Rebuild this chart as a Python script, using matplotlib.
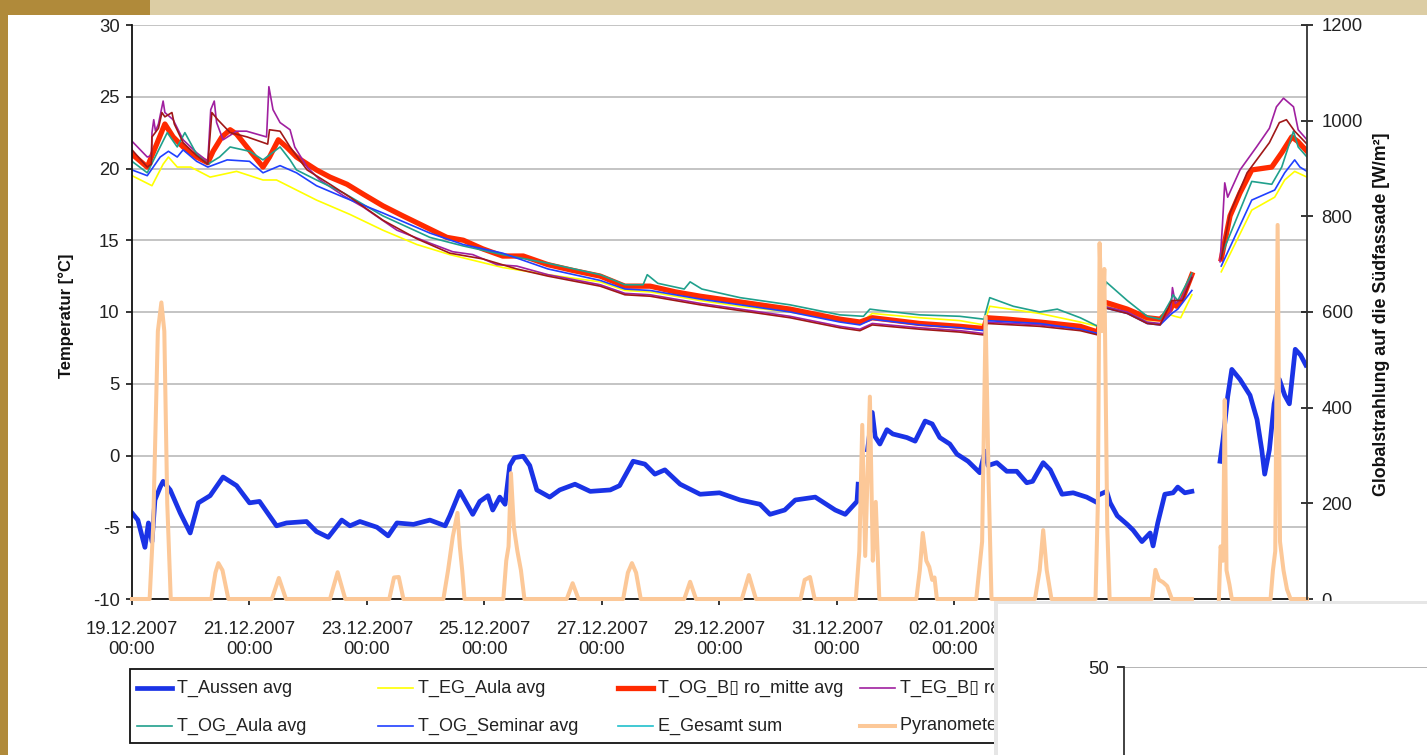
import numpy as np
import matplotlib
matplotlib.use("Agg")
import matplotlib.pyplot as plt
import matplotlib.dates as mdates
from matplotlib.patches import Rectangle
from matplotlib.lines import Line2D

plt.rcParams['font.family'] = ['Liberation Sans', 'DejaVu Sans']
plt.rcParams['axes.unicode_minus'] = False

W, H = 1427, 755
START = np.datetime64('2007-12-19T00:00')
nan = np.nan

# ---------------- data (days since 19.12.2007 00:00, values) ----------------
aussen_d = [0.00, 0.10, 0.22, 0.28, 0.34, 0.39, 0.48, 0.53, 0.65, 0.82, 0.99, 1.13, 1.33, 1.55, 1.78,
            2.00, 2.17, 2.46, 2.63, 2.97, 3.14, 3.34, 3.57, 3.71, 3.88, 4.17, 4.36, 4.51, 4.79, 5.07,
            5.33, 5.41, 5.58, 5.80, 5.92, 6.06, 6.14, 6.26, 6.35, 6.43, 6.51, 6.66, 6.77, 6.89, 7.11,
            7.28, 7.54, 7.80, 8.14, 8.30, 8.53, 8.73, 8.90, 9.07, 9.33, 9.67, 10.00, 10.35, 10.69, 10.86,
            11.11, 11.29, 11.63, 11.97, 12.14, 12.34, 12.36, 12.45, 12.52, 12.60, 12.65, 12.73, 12.85,
            12.95, 13.19, 13.33, 13.50, 13.62, 13.75, 13.92, 14.04, 14.23, 14.43, 14.52, 14.57, 14.72,
            14.89, 15.06, 15.23, 15.33, 15.51, 15.63, 15.83, 16.02, 16.25, 16.39, 16.44, 16.48, 16.59,
            16.65, 16.77, 16.94, 17.04, 17.19, 17.33, 17.38, 17.46, 17.58, 17.72, 17.80, 17.92, 18.04,
            18.30, 18.52, 18.57, 18.65, 18.72, 18.86, 19.03, 19.15, 19.23, 19.28, 19.36, 19.44, 19.53,
            19.62, 19.70, 19.80, 19.89, 19.98]
aussen_v = [-4.0, -4.5, -6.4, -4.7, -6.0, -3.1, -2.2, -1.8, -2.4, -4.0, -5.4, -3.3, -2.8, -1.5, -2.1,
            -3.3, -3.2, -4.9, -4.7, -4.6, -5.3, -5.7, -4.5, -4.9, -4.6, -5.0, -5.6, -4.7, -4.8, -4.5,
            -4.9, -4.2, -2.5, -4.1, -3.2, -2.8, -3.8, -2.9, -3.4, -0.7, -0.15, -0.05, -0.7, -2.4, -2.9,
            -2.4, -2.0, -2.5, -2.4, -2.1, -0.4, -0.6, -1.3, -1.0, -2.0, -2.7, -2.6, -3.1, -3.4, -4.1,
            -3.8, -3.1, -2.9, -3.8, -4.1, -3.2, -2.0, nan, 0.4, 3.0, 1.3, 0.8, 1.8,
            1.5, 1.25, 1.0, 2.4, 2.2, 1.25, 0.8, 0.1, -0.4, -1.2, 0.3, -0.7, -0.5,
            -1.1, -1.1, -1.9, -1.8, -0.5, -1.0, -2.7, -2.6, -2.9, -3.2, nan, -2.7, -2.5,
            -3.3, -4.2, -4.8, -5.2, -6.0, -5.4, -6.3, -4.7, -2.7, -2.6, -2.2, -2.6, -2.5,
            nan, -0.4, 1.1, 4.1, 6.0, 5.3, 4.2, 2.5, 0.4, -1.3, 0.4, 3.6, 5.3,
            4.2, 3.6, 7.4, 7.0, 6.3]

eg_aula_d = [0.00, 0.34, 0.53, 0.62, 0.77, 1.00, 1.33, 1.78, 2.23, 2.46, 2.80, 3.14, 3.71, 4.27, 4.85,
             5.41, 6.31, 7.08, 7.97, 8.39, 8.82, 9.67, 10.35, 11.20, 12.05, 12.39, 12.60, 13.41, 14.09,
             14.50, 14.60, 15.45, 16.14, 16.44, 16.55, 16.94, 17.28, 17.50, 17.68, 17.75, 17.85, 18.04,
             18.30, 18.54, 19.06, 19.45, 19.62, 19.79, 20.00]
eg_aula_v = [19.5, 18.8, 20.3, 20.8, 20.1, 20.1, 19.4, 19.8, 19.2, 19.2, 18.5, 17.8, 16.8, 15.7, 14.7,
             14.0, 13.1, 12.6, 12.1, 11.5, 11.4, 10.8, 10.4, 10.0, 9.4, 9.2, 9.9, 9.6, 9.4,
             9.1, 10.4, 9.9, 9.3, 9.0, 10.5, 10.0, 9.4, 9.4, 9.8, 9.7, 9.6, 11.2,
             nan, 12.8, 17.1, 18.0, 19.2, 19.8, 19.4]

og_buero_d = [0.00, 0.26, 0.43, 0.56, 0.70, 0.87, 1.10, 1.29, 1.38, 1.53, 1.67, 1.78, 2.23, 2.34, 2.49,
              2.63, 2.80, 3.14, 3.37, 3.66, 3.94, 4.27, 4.61, 4.96, 5.36, 5.64, 5.97, 6.31, 6.66, 7.08,
              7.50, 7.97, 8.39, 8.82, 9.25, 9.67, 10.35, 11.20, 12.05, 12.39, 12.60, 13.41, 14.09, 14.50,
              14.55, 14.90, 15.45, 16.14, 16.44, 16.55, 16.94, 17.28, 17.50, 17.68, 17.72, 17.78, 17.88,
              18.04, 18.30, 18.54, 18.69, 18.86, 19.06, 19.40, 19.57, 19.74, 19.84, 20.00]
og_buero_v = [21.0, 20.1, 21.8, 23.1, 22.2, 21.5, 20.8, 20.4, 21.2, 22.2, 22.7, 22.4, 20.1, 20.8, 22.0,
              21.5, 20.8, 19.9, 19.4, 18.9, 18.2, 17.4, 16.7, 16.0, 15.2, 15.0, 14.4, 13.9, 13.9, 13.3,
              12.9, 12.5, 11.8, 11.8, 11.4, 11.1, 10.7, 10.2, 9.5, 9.3, 9.6, 9.2, 9.0, 8.85,
              9.6, 9.5, 9.3, 9.0, 8.6, 10.7, 10.2, 9.6, 9.5, 10.2, 10.6, 10.4, 10.9,
              12.6, nan, 13.7, 16.7, 18.3, 19.9, 20.1, 21.1, 22.2, 21.9, 21.2]

eg_buero_d = [0.00, 0.26, 0.33, 0.34, 0.37, 0.40, 0.45, 0.53, 0.56, 0.70, 0.87, 1.10, 1.29, 1.34, 1.40,
              1.44, 1.55, 1.78, 1.95, 2.29, 2.33, 2.40, 2.52, 2.69, 2.77, 2.98, 3.20, 3.60, 3.94, 4.51,
              5.07, 5.46, 5.80, 6.21, 6.55, 7.08, 7.97, 8.39, 8.82, 9.67, 10.35, 11.20, 12.05, 12.39,
              12.60, 13.41, 14.09, 14.50, 14.55, 15.45, 16.14, 16.44, 16.55, 16.94, 17.28, 17.50, 17.68,
              17.71, 17.76, 17.88, 18.04, 18.30, 18.52, 18.56, 18.60, 18.65, 18.86, 19.14, 19.36, 19.48,
              19.60, 19.77, 19.85, 20.00]
eg_buero_v = [21.9, 20.8, 20.9, 22.5, 23.4, 22.6, 23.1, 24.7, 23.9, 23.4, 22.0, 21.1, 20.5, 24.1, 24.7,
              23.2, 22.0, 22.6, 22.6, 22.2, 25.7, 24.1, 23.2, 22.7, 21.5, 20.1, 19.2, 18.1, 17.3, 15.7,
              14.8, 14.2, 14.0, 13.3, 13.2, 12.6, 11.9, 11.3, 11.2, 10.6, 10.2, 9.7, 9.0, 8.8,
              9.2, 8.9, 8.7, 8.5, 9.3, 9.1, 8.8, 8.5, 10.4, 10.0, 9.3, 9.2, 10.0,
              11.7, 10.6, 11.0, 12.5, nan, 13.5, 16.0, 19.0, 18.0, 19.9, 21.5, 22.8, 24.3,
              24.9, 24.3, 22.7, 22.0]

og_aula_d = [0.00, 0.26, 0.43, 0.60, 0.77, 0.90, 1.10, 1.29, 1.49, 1.67, 2.00, 2.23, 2.52, 2.69, 2.80,
             3.14, 3.60, 4.27, 5.07, 5.64, 6.31, 7.08, 7.97, 8.39, 8.70, 8.77, 8.95, 9.40, 9.50, 9.70,
             10.35, 11.20, 12.05, 12.45, 12.56, 12.75, 13.41, 14.09, 14.50, 14.60, 15.00, 15.45, 15.75,
             16.14, 16.44, 16.58, 16.94, 17.28, 17.50, 17.68, 17.72, 17.80, 18.04, 18.30, 18.54, 19.06,
             19.40, 19.57, 19.77, 19.85, 20.00]
og_aula_v = [20.5, 19.7, 21.1, 22.5, 21.5, 22.5, 21.0, 20.3, 20.8, 21.5, 21.2, 20.6, 21.5, 20.6, 19.9,
             19.2, 18.3, 16.7, 15.2, 14.6, 14.0, 13.4, 12.6, 11.9, 11.9, 12.6, 12.0, 11.6, 12.1, 11.6,
             11.0, 10.5, 9.8, 9.7, 10.2, 10.1, 9.8, 9.7, 9.5, 11.0, 10.4, 10.0, 10.2,
             9.6, 9.0, 12.1, 10.8, 9.7, 9.5, 10.8, 11.2, 10.8, 12.7, nan, 13.9, 19.1,
             18.9, 20.1, 22.6, 21.5, 20.8]

og_seminar_d = [0.00, 0.26, 0.48, 0.62, 0.77, 0.87, 1.10, 1.29, 1.62, 2.00, 2.23, 2.52, 2.80, 3.14, 3.60,
                4.27, 5.07, 5.64, 6.31, 7.08, 7.97, 8.39, 8.82, 9.67, 10.35, 11.20, 12.05, 12.39, 12.60,
                13.41, 14.09, 14.50, 14.55, 15.45, 16.14, 16.44, 16.55, 16.94, 17.28, 17.50, 17.70, 17.80,
                18.04, 18.30, 18.54, 19.06, 19.45, 19.62, 19.79, 19.88, 20.00]
og_seminar_v = [19.9, 19.5, 20.8, 21.2, 20.8, 21.3, 20.5, 20.1, 20.6, 20.5, 19.7, 20.2, 19.7, 18.8, 18.0,
                16.9, 15.5, 14.7, 14.1, 13.0, 12.2, 11.6, 11.5, 10.9, 10.5, 10.0, 9.3, 9.1, 9.5,
                9.1, 8.9, 8.7, 9.4, 9.2, 8.8, 8.5, 10.3, 9.9, 9.2, 9.1, 9.9, 10.2,
                11.5, nan, 13.2, 17.8, 18.5, 19.7, 20.6, 20.1, 19.8]

og_buero2_d = [0.00, 0.26, 0.33, 0.34, 0.45, 0.51, 0.56, 0.68, 0.72, 0.87, 1.10, 1.29, 1.36, 1.46, 1.67,
               1.96, 2.31, 2.34, 2.52, 2.69, 2.98, 3.37, 3.71, 4.27, 4.85, 5.41, 5.97, 6.55, 7.08, 7.97,
               8.39, 8.82, 9.67, 10.35, 11.20, 12.05, 12.39, 12.60, 13.41, 14.09, 14.50, 14.55, 15.45,
               16.14, 16.44, 16.55, 16.94, 17.28, 17.50, 17.70, 17.88, 18.04, 18.30, 18.54, 18.69, 18.98,
               19.36, 19.53, 19.65, 19.79, 20.00]
og_buero2_v = [21.3, 20.1, 20.3, 22.2, 22.8, 23.9, 23.6, 23.9, 23.1, 21.8, 20.9, 20.3, 23.9, 23.4, 22.5,
               22.2, 21.7, 22.7, 22.6, 21.5, 19.9, 18.9, 18.0, 16.4, 15.1, 14.1, 13.7, 13.0, 12.5, 11.8,
               11.2, 11.1, 10.5, 10.1, 9.6, 8.9, 8.7, 9.1, 8.8, 8.6, 8.4, 9.2, 9.0,
               8.7, 8.4, 10.3, 9.9, 9.2, 9.1, 10.8, 10.8, 12.4, nan, 13.7, 16.9, 19.7,
               21.8, 23.2, 23.4, 22.6, 21.7]

pyr_d = [0.00, 0.30, 0.36, 0.44, 0.50, 0.55, 0.60, 0.66,
         1.35, 1.42, 1.47, 1.54, 1.64,
         2.38, 2.50, 2.62,
         3.37, 3.50, 3.63,
         4.38, 4.46, 4.54, 4.62,
         5.30, 5.38, 5.46, 5.54, 5.58, 5.62, 5.66,
         6.32, 6.37, 6.41, 6.45, 6.50, 6.56, 6.62, 6.68,
         7.40, 7.50, 7.60,
         8.36, 8.44, 8.51, 8.58, 8.66,
         9.40, 9.50, 9.60,
         10.38, 10.50, 10.62,
         11.38, 11.45, 11.54, 11.62,
         12.32, 12.38, 12.43, 12.48, 12.56, 12.61, 12.66, 12.72,
         13.35, 13.41, 13.46, 13.52, 13.57, 13.62, 13.66, 13.70,
         14.37, 14.42, 14.47, 14.53, 14.58, 14.63,
         15.37, 15.45, 15.51, 15.57, 15.65,
         16.40, 16.44, 16.47, 16.51, 16.55, 16.60, 16.64,
         17.36, 17.42, 17.48, 17.55, 17.62, 17.70, 18.04,
         18.30,
         18.50, 18.53, 18.57, 18.60, 18.63, 18.68, 18.72,
         19.38, 19.42, 19.46, 19.50, 19.54, 19.60, 19.66, 19.72, 20.00]
pyr_v = [0, 0, 150, 560, 620, 560, 200, 0,
         0, 55, 75, 60, 0,
         0, 44, 0,
         0, 56, 0,
         0, 45, 46, 0,
         0, 60, 130, 180, 110, 60, 0,
         0, 80, 110, 263, 150, 100, 60, 0,
         0, 33, 0,
         0, 55, 75, 55, 0,
         0, 36, 0,
         0, 50, 0,
         0, 40, 46, 0,
         0, 100, 364, 90, 423, 80, 203, 0,
         0, 60, 138, 80, 67, 40, 45, 0,
         0, 60, 120, 590, 250, 0,
         0, 60, 144, 60, 0,
         0, 200, 744, 560, 690, 150, 0,
         0, 61, 40, 35, 27, 0, 0,
         nan,
         0, 110, 80, 416, 60, 30, 0,
         0, 60, 100, 782, 120, 60, 20, 0, 0]

temp_ticks = [-10, -5, 0, 5, 10, 15, 20, 25, 30]
rad_ticks = [0, 200, 400, 600, 800, 1000, 1200]

labels_row1 = ['T_Aussen avg', 'T_EG_Aula avg', 'T_OG_B\u25af ro_mitte avg', 'T_EG_B\u25af ro avg']
labels_row2 = ['T_OG_Aula avg', 'T_OG_Seminar avg', 'E_Gesamt sum', 'Pyranometer avg']


def to_time(days):
    mins = np.round(np.asarray(days, dtype=float) * 1440).astype('int64')
    return START + mins.astype('timedelta64[m]')


def fx(x):
    return x / W


def fy(y):
    return 1 - y / H


fig = plt.figure(figsize=(W / 100, H / 100), dpi=100)
fig.patch.set_facecolor('#b08a3a')
fig.add_artist(Rectangle((fx(150), fy(15)), 1 - fx(150), fy(0) - fy(15), transform=fig.transFigure,
                         facecolor='#dccda4', edgecolor='none', zorder=-10))
fig.add_artist(Rectangle((fx(8), 0), 1 - fx(8), fy(15), transform=fig.transFigure,
                         facecolor='white', edgecolor='none', zorder=-9))

ax = fig.add_axes([fx(132), fy(599), (1307 - 132) / W, (599 - 25) / H])
ax.set_facecolor('white')

c_aussen = '#1a33e6'
c_yellow = '#ffff00'
c_red = '#ff2a00'
c_purple = '#a020a0'
c_teal = '#20a08c'
c_blue = '#2040ff'
c_cyan = '#20c0cc'
c_brown = '#a01818'
c_peach = '#fcc898'

ax.plot(to_time(aussen_d), aussen_v, color=c_aussen, lw=3.4, solid_joinstyle='round')
ax.plot(to_time(eg_aula_d), eg_aula_v, color=c_yellow, lw=1.2)
ax.plot(to_time(og_buero_d), og_buero_v, color=c_red, lw=3.8, solid_joinstyle='round')
ax.plot(to_time(eg_buero_d), eg_buero_v, color=c_purple, lw=1.2)
ax.plot(to_time(og_aula_d), og_aula_v, color=c_teal, lw=1.2)
ax.plot(to_time(og_seminar_d), og_seminar_v, color=c_blue, lw=1.2)
ax.plot(to_time(og_buero2_d), og_buero2_v, color=c_brown, lw=1.2)

ax.set_xlim(START, START + np.timedelta64(20, 'D'))
ax.set_ylim(-10, 30)
ax.set_yticks(temp_ticks)
ax.grid(axis='y', color='#b4b4b4', lw=1.1)
ax.set_axisbelow(True)
ax.set_xticks(to_time(np.arange(0, 21, 2)))
ax.xaxis.set_major_formatter(mdates.DateFormatter('%d.%m.%Y\n%H:%M'))
for s in ['top', 'right']:
    ax.spines[s].set_visible(False)
for s in ['left', 'bottom']:
    ax.spines[s].set_color('#111111')
    ax.spines[s].set_linewidth(1.3)
ax.tick_params(axis='y', direction='out', length=4, width=1.1, labelsize=13.3, pad=5, labelcolor='#222222')
ax.tick_params(axis='x', direction='out', length=4, width=1.1, labelsize=13.3, pad=11.5, labelcolor='#222222')
for t in ax.get_xticklabels():
    t.set_multialignment('center')
    t.set_linespacing(1.3)

ax2 = ax.twinx()
ax2.plot(to_time(pyr_d), pyr_v, color=c_peach, lw=2.9, clip_on=False)
ax2.set_ylim(0, 1200)
ax2.set_yticks(rad_ticks)
for s in ['top', 'left', 'bottom']:
    ax2.spines[s].set_visible(False)
ax2.spines['right'].set_color('#333333')
ax2.spines['right'].set_linewidth(1.3)
ax2.tick_params(axis='y', direction='inout', length=9, width=1.1, labelsize=13.3, pad=6, labelcolor='#222222')

fig.text(fx(66), fy(316), 'Temperatur [\u00b0C]', rotation=90, ha='center', va='center',
         fontsize=12, fontweight='bold', color='#111111')
fig.text(fx(1381), fy(314), 'Globalstrahlung auf die S\u00fcdfassade [W/m\u00b2]', rotation=90,
         ha='center', va='center', fontsize=12.8, fontweight='bold', color='#111111')

# legend (drawn manually, Excel style equal columns)
fig.add_artist(Rectangle((fx(130), fy(743)), fx(1200) - fx(130), fy(669) - fy(743), transform=fig.transFigure,
                         facecolor='white', edgecolor='#111111', lw=1.3, zorder=2))
col_x = [137, 378, 618, 860]
row_y = [688, 726]
styles_row1 = [(c_aussen, 3.4), (c_yellow, 1.2), (c_red, 3.8), (c_purple, 1.2)]
styles_row2 = [(c_teal, 1.2), (c_blue, 1.2), (c_cyan, 1.2), (c_peach, 2.9)]
for ry, labs, sty in [(row_y[0], labels_row1, styles_row1), (row_y[1], labels_row2, styles_row2)]:
    for cx, lab, (col, lw) in zip(col_x, labs, sty):
        fig.add_artist(Line2D([fx(cx), fx(cx + 35)], [fy(ry), fy(ry)], transform=fig.transFigure,
                              color=col, lw=lw, zorder=3))
        fig.text(fx(cx + 40), fy(ry), lab, ha='left', va='center', fontsize=13, color='#222222', zorder=3)

# overlapping second slide in the bottom right corner
fig.add_artist(Rectangle((fx(994), 0), 1 - fx(994), fy(601), transform=fig.transFigure,
                         facecolor='#e6e6e6', edgecolor='none', zorder=5))
fig.add_artist(Rectangle((fx(998), 0), 1 - fx(998), fy(604), transform=fig.transFigure,
                         facecolor='white', edgecolor='none', zorder=6))
ax3 = fig.add_axes([fx(1124), fy(1100), 0.4, (1100 - 667) / H], zorder=7)
ax3.set_facecolor('white')
ax3.set_ylim(0, 50)
ax3.set_yticks([50])
ax3.set_xticks([])
ax3.grid(axis='y', color='#a0a0a0', lw=1.1)
for s in ['top', 'right', 'bottom']:
    ax3.spines[s].set_visible(False)
ax3.spines['left'].set_color('#333333')
ax3.spines['left'].set_linewidth(1.3)
ax3.tick_params(axis='y', direction='out', length=5, width=1.1, labelsize=13.3, pad=6, labelcolor='#222222')

fig.savefig('out.png', dpi=100)
